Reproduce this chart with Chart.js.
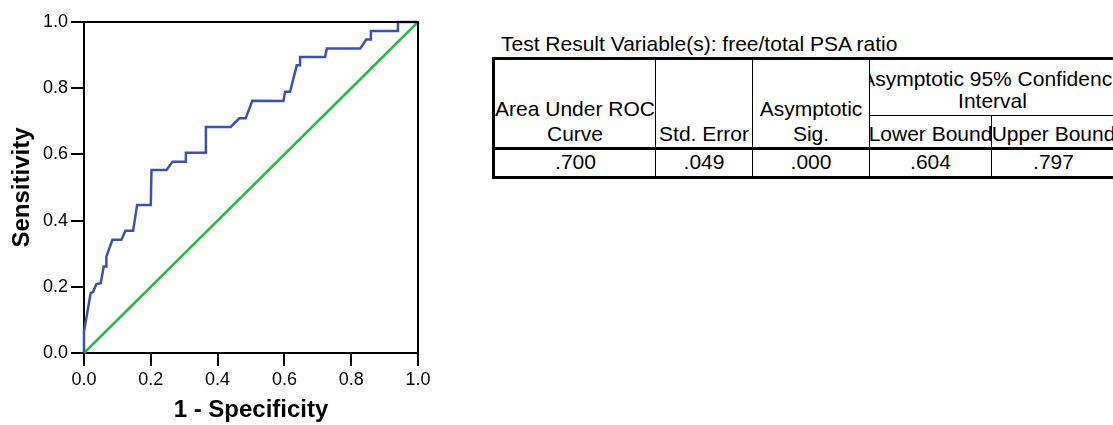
<!DOCTYPE html>
<html>
<head>
<meta charset="utf-8">
<script src="https://cdn.jsdelivr.net/npm/chart.js@4.4.1/dist/chart.umd.min.js"></script>
<style>
html, body { margin: 0; padding: 0; background: #fff; overflow: hidden; }
body { width: 1113px; height: 425px; position: relative; font-family: "Liberation Sans", Arial, sans-serif; }
#wrap { position: absolute; left: 0; top: 0; width: 440px; height: 425px; }
.t { position: absolute; font-size: 21px; line-height: 23px; white-space: nowrap; color: #000;
     display: flex; justify-content: center; overflow: hidden; }
.ln { position: absolute; background: #000; }
</style>
</head>
<body>
<div id="wrap"><canvas id="roc" width="440" height="425"></canvas></div>
<div id="tbl"></div>
<script>
// ROC curve points
const fpr = [0, 0, 0.020, 0.027, 0.037, 0.050, 0.059, 0.067, 0.067, 0.085, 0.112, 0.124, 0.147, 0.159, 0.200,
             0.202, 0.247, 0.265, 0.305, 0.305, 0.365, 0.365, 0.439, 0.465, 0.484, 0.504, 0.597, 0.602, 0.617,
             0.637, 0.647, 0.647, 0.722, 0.727, 0.827, 0.845, 0.859, 0.859, 0.940, 0.940, 1];
const tpr = [0, 0.065, 0.181, 0.184, 0.208, 0.211, 0.261, 0.261, 0.291, 0.342, 0.342, 0.369, 0.369, 0.447, 0.447,
             0.553, 0.553, 0.578, 0.578, 0.605, 0.605, 0.683, 0.683, 0.709, 0.709, 0.762, 0.761, 0.789, 0.789,
             0.869, 0.869, 0.894, 0.894, 0.920, 0.920, 0.947, 0.947, 0.973, 0.973, 1, 1];
const refLine = [0, 1];
const tickVals = [0, 0.2, 0.4, 0.6, 0.8, 1.0];

const tableTitle = 'Test Result Variable(s): free/total PSA ratio';
const headers = ['Area Under ROC', 'Curve', 'Std. Error', 'Asymptotic', 'Sig.',
                 'Asymptotic 95% Confidence', 'Interval', 'Lower Bound', 'Upper Bound'];
const stats = ['.700', '.049', '.000', '.604', '.797'];

// black frame on top and right of the plot
const frame = {
    id: 'frame',
    afterDraw(chart) {
        const a = chart.chartArea, ctx = chart.ctx;
        ctx.save();
        ctx.strokeStyle = '#000';
        ctx.lineWidth = 2;
        ctx.beginPath();
        ctx.moveTo(a.left, a.top);
        ctx.lineTo(a.right, a.top);
        ctx.lineTo(a.right, a.bottom);
        ctx.stroke();
        ctx.restore();
    }
};

const axis = (title, fit) => ({
    type: 'linear',
    min: 0,
    max: 1,
    afterBuildTicks: s => { s.ticks = tickVals.map(v => ({ value: v })); },
    afterFit: fit,
    ticks: {
        color: '#000',
        padding: 3,
        font: { family: '"Liberation Sans", Arial', size: 18 },
        callback: v => v.toFixed(1)
    },
    grid: { drawOnChartArea: false, color: '#000', lineWidth: 2, tickLength: 13 },
    border: { display: true, color: '#000', width: 2 },
    title: {
        display: true,
        text: title,
        color: '#000',
        padding: { top: 8, bottom: 0 },
        font: { family: '"Liberation Sans", Arial', size: 24, weight: 'bold' }
    }
});

const rocChart = new Chart(document.getElementById('roc'), {
    type: 'scatter',
    data: {
        datasets: [{
            data: fpr.map((x, i) => ({ x: x, y: tpr[i] })),
            showLine: true,
            borderColor: '#3d53a9',
            borderWidth: 2.5,
            pointRadius: 0,
            clip: false
        }, {
            data: refLine.map(v => ({ x: v, y: v })),
            showLine: true,
            borderColor: '#2fb84a',
            borderWidth: 2.5,
            pointRadius: 0,
            clip: false
        }]
    },
    options: {
        responsive: false,
        animation: false,
        layout: { padding: { top: 22, right: 22, left: 0, bottom: 0 } },
        plugins: { legend: { display: false }, tooltip: { enabled: false } },
        scales: {
            x: axis('1 - Specificity', s => { s.height = 72; }),
            y: axis('Sensitivity', s => { s.width = 84; })
        }
    },
    plugins: [frame]
});

// statistics table
const tbl = document.getElementById('tbl');
function line(x, y, w, h) {
    const d = document.createElement('div');
    d.className = 'ln';
    Object.assign(d.style, { left: x + 'px', top: y + 'px', width: w + 'px', height: h + 'px' });
    tbl.appendChild(d);
}
function put(text, x0, x1, capY) {
    const d = document.createElement('div');
    d.className = 't';
    d.textContent = text;
    Object.assign(d.style, { left: x0 + 'px', width: (x1 - x0) + 'px', top: (capY - 11.7) + 'px' });
    tbl.appendChild(d);
}
const cx = [495, 655, 752, 869, 991, 1115];

const ttl = document.createElement('div');
ttl.className = 't';
ttl.textContent = tableTitle;
Object.assign(ttl.style, { left: '501px', top: '32px', justifyContent: 'flex-start' });
tbl.appendChild(ttl);

line(492, 57, 640, 3);
line(492, 57, 3, 122);
line(492, 147, 640, 3);
line(492, 176, 640, 3);
line(655, 60, 1, 116);
line(752, 60, 1, 116);
line(869, 60, 1, 116);
line(869, 115, 260, 1);
line(991, 115, 1, 61);

put(headers[0], cx[0], cx[1], 108.5);
put(headers[1], cx[0], cx[1], 134);
put(headers[2], cx[1] + 1, cx[2], 134);
put(headers[3], cx[2] + 1, cx[3], 108.5);
put(headers[4], cx[2] + 1, cx[3], 134);
put(headers[5], cx[3] + 1, cx[5], 79);
put(headers[6], cx[3] + 1, cx[5], 101);
put(headers[7], cx[3] + 1, cx[4], 134);
put(headers[8], cx[4] + 1, cx[5], 134);
stats.forEach((s, i) => put(s, cx[i] + 1, cx[i + 1], 162));
</script>
</body>
</html>
